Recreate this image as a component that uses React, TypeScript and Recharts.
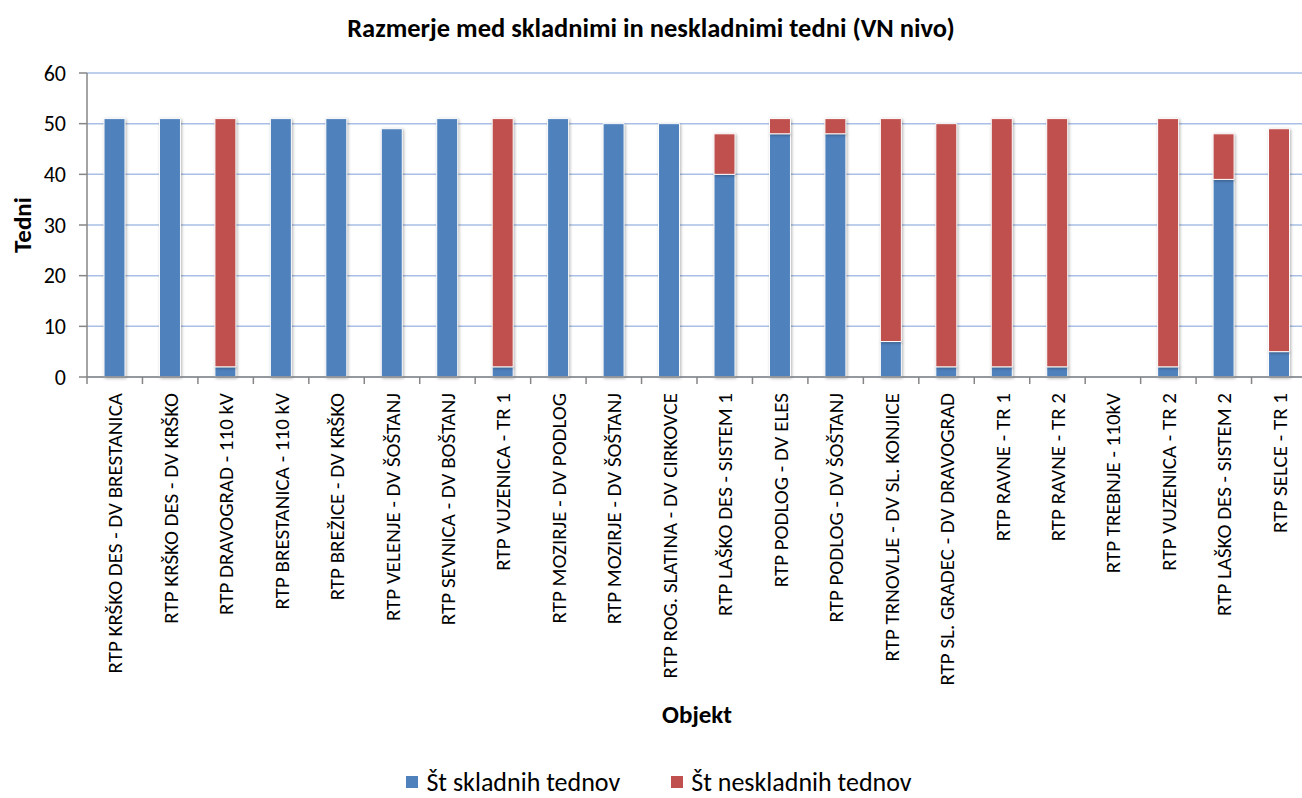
import { Bar, BarChart, CartesianGrid, Label, Legend, Rectangle, XAxis, YAxis } from "recharts";

const objekti = [
  "RTP KRŠKO DES - DV BRESTANICA",
  "RTP KRŠKO DES - DV KRŠKO",
  "RTP DRAVOGRAD - 110 kV",
  "RTP BRESTANICA - 110 kV",
  "RTP BREŽICE - DV KRŠKO",
  "RTP VELENJE - DV ŠOŠTANJ",
  "RTP SEVNICA - DV BOŠTANJ",
  "RTP VUZENICA - TR 1",
  "RTP MOZIRJE - DV PODLOG",
  "RTP MOZIRJE - DV ŠOŠTANJ",
  "RTP ROG. SLATINA - DV CIRKOVCE",
  "RTP LAŠKO DES - SISTEM 1",
  "RTP PODLOG - DV ELES",
  "RTP PODLOG - DV ŠOŠTANJ",
  "RTP TRNOVLJE - DV SL. KONJICE",
  "RTP SL. GRADEC - DV DRAVOGRAD",
  "RTP RAVNE - TR 1",
  "RTP RAVNE - TR 2",
  "RTP TREBNJE - 110kV",
  "RTP VUZENICA - TR 2",
  "RTP LAŠKO DES - SISTEM 2",
  "RTP SELCE - TR 1",
];

const skladni = [51, 51, 2, 51, 51, 49, 51, 2, 51, 50, 50, 40, 48, 48, 7, 2, 2, 2, 0, 2, 39, 5];
const neskladni = [0, 0, 49, 0, 0, 0, 0, 49, 0, 0, 0, 8, 3, 3, 44, 48, 49, 49, 0, 49, 9, 44];

const yTicks = [0, 10, 20, 30, 40, 50, 60];
const legendOrder = ["Št skladnih tednov", "Št neskladnih tednov"];

const data = objekti.map((name, i) => ({
  name,
  skladni: skladni[i],
  neskladni: neskladni[i],
}));

const FONT = "Calibri, Carlito, Lato, sans-serif";
const W = 1310;
const H = 798;
const LEFT = 87;
const RIGHT = 3;
const BAND = (W - LEFT - RIGHT) / objekti.length;
const AXIS_GRAY = "#868686";
const LEGEND_H = 32;

const BarShape = (props: any) => (
  <Rectangle
    {...props}
    stroke="#ffffff"
    strokeWidth={1}
    style={{ filter: "drop-shadow(1px 1px 1.5px rgba(0,0,0,0.3))" }}
  />
);

const CategoryTick = (props: any) => {
  const { x, y, payload, index } = props;
  const left = x - BAND / 2;
  return (
    <g>
      <line x1={left} x2={left} y1={y} y2={y + 7} stroke={AXIS_GRAY} strokeWidth={1.5} />
      {index === objekti.length - 1 && (
        <line x1={x + BAND / 2} x2={x + BAND / 2} y1={y} y2={y + 7} stroke={AXIS_GRAY} strokeWidth={1.5} />
      )}
      <text
        x={0}
        y={0}
        dy="0.36em"
        textAnchor="end"
        transform={`translate(${x},${y + 16}) rotate(-90)`}
        fontFamily={FONT}
        fontSize={21}
        fill="#000"
      >
        {payload.value}
      </text>
    </g>
  );
};

const LegendContent = (props: any) => {
  const items = [...(props.payload || [])].sort(
    (a: any, b: any) => legendOrder.indexOf(a.value) - legendOrder.indexOf(b.value)
  );
  return (
    <div
      style={{
        display: "flex",
        justifyContent: "center",
        gap: 51,
        fontFamily: FONT,
        fontSize: 26,
        lineHeight: `${LEGEND_H}px`,
        height: LEGEND_H,
        color: "#000",
        paddingLeft: 11,
      }}
    >
      {items.map((entry: any) => (
        <div key={entry.value} style={{ display: "flex", alignItems: "center", gap: 8 }}>
          <span style={{ width: 12, height: 12, background: entry.color, display: "inline-block" }} />
          <span>{entry.value}</span>
        </div>
      ))}
    </div>
  );
};

export default function App() {
  return (
    <div style={{ position: "absolute", left: 0, top: 0, width: 1302, height: H, overflow: "hidden", background: "#fff" }}>
      <div
        style={{
          position: "absolute",
          left: 0,
          top: 12,
          width: 1302,
          textAlign: "center",
          fontFamily: FONT,
          fontWeight: 700,
          fontSize: 26.5,
          color: "#000",
          lineHeight: "32px",
        }}
      >
        Razmerje med skladnimi in neskladnimi tedni (VN nivo)
      </div>
      <BarChart
        width={W}
        height={H}
        data={data}
        margin={{ top: 73, right: RIGHT, left: 0, bottom: 0 }}
        barSize={21}
      >
        <CartesianGrid horizontal vertical={false} stroke="#a9bfe6" strokeWidth={1.5} />
        <XAxis
          dataKey="name"
          interval={0}
          height={H - 73 - 304 - LEGEND_H}
          tickSize={0}
          tickMargin={0}
          tick={<CategoryTick />}
          axisLine={{ stroke: AXIS_GRAY, strokeWidth: 1.5 }}
          tickLine={false}
        >
          <Label
            value="Objekt"
            position="insideBottom"
            offset={43}
            style={{ fontFamily: FONT, fontWeight: 700, fontSize: 25, fill: "#000" }}
          />
        </XAxis>
        <YAxis
          width={LEFT}
          domain={[0, 60]}
          ticks={yTicks}
          interval={0}
          tickSize={8}
          tickMargin={13}
          tick={{ fontFamily: FONT, fontSize: 22, fill: "#000" }}
          axisLine={{ stroke: AXIS_GRAY, strokeWidth: 1.5 }}
          tickLine={{ stroke: AXIS_GRAY, strokeWidth: 1.5 }}
        >
          <Label
            value="Tedni"
            angle={-90}
            position="insideLeft"
            offset={22}
            textAnchor="middle"
            style={{ fontFamily: FONT, fontWeight: 700, fontSize: 25, fill: "#000", textAnchor: "middle" }}
          />
        </YAxis>
        <Legend verticalAlign="bottom" height={LEGEND_H} content={<LegendContent />} />
        <Bar
          dataKey="skladni"
          name="Št skladnih tednov"
          stackId="a"
          fill="#4f81bd"
          shape={<BarShape />}
          isAnimationActive={false}
        />
        <Bar
          dataKey="neskladni"
          name="Št neskladnih tednov"
          stackId="a"
          fill="#c0504d"
          shape={<BarShape />}
          isAnimationActive={false}
        />
      </BarChart>
    </div>
  );
}
